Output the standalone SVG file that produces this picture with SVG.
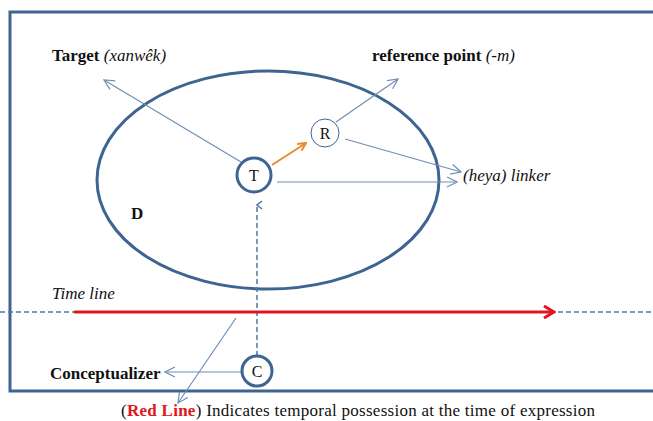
<svg xmlns="http://www.w3.org/2000/svg" width="653" height="421" viewBox="0 0 653 421">
<defs>
<style>
.thin{stroke:#6f8fb3;stroke-width:1.2;fill:none}
.thick{stroke:#3e6592;stroke-width:3;fill:none}
.node{fill:#fff;stroke:#3e6592}
.b{font-weight:bold}
.i{font-style:italic}
</style>
<marker id="open" viewBox="0 0 12 12" refX="11" refY="6" markerWidth="12" markerHeight="12" markerUnits="userSpaceOnUse" orient="auto">
<path d="M1,1 L11,6 L1,11" fill="none" stroke="#6f8fb3" stroke-width="1.2"/>
</marker>
<marker id="orangeHead" viewBox="0 0 10 10" refX="9" refY="5" markerWidth="10" markerHeight="10" markerUnits="userSpaceOnUse" orient="auto">
<path d="M1,1 L9,5 L1,9" fill="none" stroke="#e98a2a" stroke-width="2"/>
</marker>
<marker id="redHead" viewBox="0 0 14 14" refX="12" refY="7" markerWidth="14" markerHeight="14" markerUnits="userSpaceOnUse" orient="auto">
<path d="M2,1 L12,7 L2,13" fill="none" stroke="#e0161e" stroke-width="3"/>
</marker>
<marker id="dashHead" viewBox="0 0 10 10" refX="5" refY="1" markerWidth="10" markerHeight="10" markerUnits="userSpaceOnUse" orient="auto-start-reverse">
<path d="M1,6 L5,1 L9,6" fill="none" stroke="#4f76a3" stroke-width="1.5"/>
</marker>
</defs>
<rect x="0" y="0" width="653" height="421" fill="#fff"/>
<g font-family="Liberation Serif, Times New Roman, DejaVu Serif, serif" font-size="17" fill="#111">
<g id="frame">
<rect x="10" y="12" width="660" height="379" class="thick"/>
</g>
<g id="domain">
<ellipse cx="268" cy="180" rx="171" ry="109" class="thick"/>
<text x="131" y="219" class="b">D</text>
</g>
<g id="connectors">
<line x1="241" y1="162" x2="104" y2="80" class="thin" marker-end="url(#open)"/>
<line x1="336" y1="122" x2="398" y2="79" class="thin" marker-end="url(#open)"/>
<line x1="345" y1="139" x2="461" y2="172" class="thin" marker-end="url(#open)"/>
<line x1="277" y1="182" x2="457" y2="182" class="thin" marker-end="url(#open)"/>
<line x1="272" y1="165" x2="306" y2="143" stroke="#e98a2a" stroke-width="2" marker-end="url(#orangeHead)"/>
<line x1="257" y1="356" x2="257" y2="205" stroke="#4f76a3" stroke-width="1.5" stroke-dasharray="5,3" marker-end="url(#dashHead)"/>
<line x1="0" y1="312" x2="74" y2="312" stroke="#4f76a3" stroke-width="1.5" stroke-dasharray="5,3"/>
<line x1="74" y1="312" x2="554" y2="312" stroke="#e0161e" stroke-width="3" marker-end="url(#redHead)"/>
<line x1="558" y1="312" x2="653" y2="312" stroke="#4f76a3" stroke-width="1.5" stroke-dasharray="5,3"/>
<line x1="241" y1="372" x2="165" y2="372" class="thin" marker-end="url(#open)"/>
<line x1="236" y1="318" x2="178" y2="403" class="thin" marker-end="url(#open)"/>
</g>
<g id="T">
<circle cx="254" cy="175" r="17" class="node" stroke-width="3"/>
<text x="254" y="181" text-anchor="middle" font-size="16">T</text>
</g>
<g id="R">
<circle cx="325" cy="133" r="14" class="node" stroke-width="1"/>
<text x="325" y="139" text-anchor="middle" font-size="16">R</text>
</g>
<g id="C">
<circle cx="257" cy="371" r="15" class="node" stroke-width="3"/>
<text x="257" y="377" text-anchor="middle" font-size="16">C</text>
</g>
<g id="labels">
<text x="52" y="61"><tspan class="b">Target</tspan> <tspan class="i">(xanwêk)</tspan></text>
<text x="372" y="61"><tspan class="b">reference point</tspan> <tspan class="i">(-m)</tspan></text>
<text x="463" y="181" class="i">(heya)  linker</text>
<text x="52" y="299" class="i">Time line</text>
<text x="50" y="379" class="b">Conceptualizer</text>
<text x="121" y="416" textLength="474" lengthAdjust="spacing">(<tspan class="b" fill="#e0161e">Red Line</tspan>) Indicates temporal possession  at the time of expression</text>
</g>
</g>
</svg>
